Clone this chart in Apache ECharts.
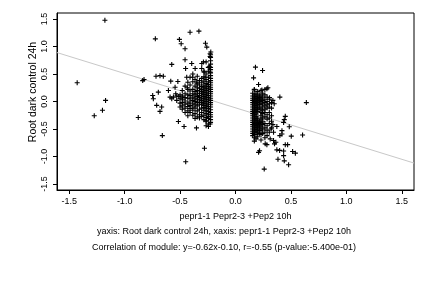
<!DOCTYPE html>
<html>
<head>
<meta charset="utf-8">
<script src="https://cdn.jsdelivr.net/npm/echarts@6/dist/echarts.min.js"></script>
<style>
  html, body { margin: 0; padding: 0; background: #fff; }
  #chart { width: 432px; height: 288px; }
</style>
</head>
<body>
<div id="chart"></div>
<script>
// tick positions shown on both axes
const tickValues = [-1.5, -1.0, -0.5, 0.0, 0.5, 1.0, 1.5]

// regression line end points (read at the plot edges)
const fitLine = [[-1.61, 0.89], [1.61, -1.12]]

// scattered points, read one by one
const loosePoints = [
  [-1.178, 1.478], [-1.428, 0.34], [-1.172, 0.02], [-1.2, -0.16], [-1.274, -0.26],
  [-0.877, -0.29], [-0.825, 0.4], [-0.837, 0.38], [-0.723, 1.14], [-0.717, 0.46],
  [-0.681, 0.47], [-0.651, 0.46], [-0.747, 0.11], [-0.741, 0.05], [-0.696, 0.17],
  [-0.711, -0.07], [-0.681, -0.18], [-0.666, -0.1], [-0.66, -0.62], [-0.584, 0.37],
  [-0.575, 0.675], [-0.605, 0.2], [-0.59, 0.08], [-0.575, 0.05], [-0.56, 0.08],
  [-0.545, 0.26], [-0.539, 0.14], [-0.52, 0.365], [-0.512, 0.09], [-0.515, -0.365],
  [-0.506, 1.13], [-0.49, 1.05], [-0.476, 0.08], [-0.464, -0.456], [-0.455, 0.96],
  [-0.455, 0.76], [-0.45, 0.6], [-0.449, -1.095], [-0.41, 1.26], [-0.33, 1.28],
  [-0.44, 0.44], [-0.434, 0.25], [-0.395, 0.69], [-0.386, 0.44], [-0.364, 0.6],
  [-0.35, 0.35], [-0.352, -0.48], [-0.304, 0.69], [-0.289, 0.72], [-0.28, -0.85],
  [-0.271, 1.06], [-0.259, 0.99], [-0.229, 0.87], [-0.223, 0.9], [-0.229, 0.82],
  [-0.283, 0.535], [-0.274, 0.44], [-0.235, 0.63], [-0.229, 0.535], [-0.244, -0.456],
  [-0.229, -0.41], [-0.265, -0.35],
  [0.18, 0.625], [0.244, 0.565], [0.163, 0.43], [0.208, 0.31], [0.169, 0.21],
  [0.238, 0.21], [0.283, 0.23], [0.292, 0.25], [0.307, 0.07], [0.337, 0.02],
  [0.349, -0.04], [0.4, 0.08], [0.639, -0.02], [0.449, -0.27], [0.44, -0.33],
  [0.434, -0.38], [0.485, -0.46], [0.605, -0.61], [0.503, -0.63], [0.419, -0.59],
  [0.4, -0.62], [0.449, -0.785], [0.47, -0.785], [0.343, -0.71], [0.352, -0.77],
  [0.364, -0.74], [0.373, -0.88], [0.398, -0.89], [0.434, -0.9], [0.434, -0.985],
  [0.515, -0.91], [0.54, -0.94], [0.44, -1.08], [0.383, -1.05], [0.479, -1.15],
  [0.259, -1.23], [0.208, -0.925], [0.217, -0.895], [0.268, -0.77], [0.283, -0.785],
  [0.313, -0.68], [0.32, -0.5], [0.337, -0.42], [0.373, -0.456], [0.419, -0.53],
  [0.343, -0.56]
]

// dense left cluster, as columns: [x, y values]
const leftStrips = [
  [-0.225, [0.85, 0.8, 0.74, 0.68, 0.62, 0.58, 0.52, 0.47, 0.42, 0.38, 0.34, 0.3, 0.26, 0.22, 0.18, 0.14, 0.1, 0.06, 0.02, -0.02, -0.06, -0.1, -0.15, -0.2, -0.24, -0.28, -0.33, -0.38]],
  [-0.245, [0.62, 0.55, 0.44, 0.36, 0.31, 0.27, 0.23, 0.19, 0.15, 0.11, 0.07, 0.03, -0.01, -0.05, -0.09, -0.13, -0.18, -0.23, -0.27, -0.31, -0.41]],
  [-0.265, [0.72, 0.5, 0.4, 0.33, 0.28, 0.24, 0.2, 0.16, 0.12, 0.08, 0.04, 0.0, -0.04, -0.08, -0.12, -0.17, -0.22, -0.29, -0.36, -0.44]],
  [-0.285, [0.55, 0.45, 0.37, 0.3, 0.25, 0.21, 0.17, 0.13, 0.09, 0.05, 0.01, -0.03, -0.07, -0.11, -0.16, -0.25, -0.33]],
  [-0.305, [0.6, 0.42, 0.34, 0.27, 0.22, 0.18, 0.14, 0.1, 0.06, 0.02, -0.02, -0.06, -0.12, -0.2, -0.27]],
  [-0.325, [0.38, 0.3, 0.24, 0.19, 0.15, 0.11, 0.07, 0.03, -0.01, -0.05, -0.14, -0.24, -0.3]],
  [-0.345, [0.46, 0.32, 0.25, 0.2, 0.14, 0.09, 0.04, -0.02, -0.08, -0.17, -0.28]],
  [-0.365, [0.4, 0.28, 0.18, 0.12, 0.06, 0.0, -0.06, -0.12, -0.22, -0.31]],
  [-0.385, [0.5, 0.36, 0.22, 0.14, 0.08, 0.02, -0.04, -0.1, -0.16, -0.25]],
  [-0.41, [0.44, 0.3, 0.19, 0.11, 0.05, -0.01, -0.07, -0.13, -0.2]],
  [-0.43, [0.35, 0.22, 0.12, 0.06, -0.03, -0.09, -0.17, -0.26]],
  [-0.455, [0.28, 0.14, 0.07, 0.01, -0.05, -0.12, -0.2]],
  [-0.48, [0.2, 0.1, 0.04, -0.02, -0.08, -0.14]],
  [-0.5, [0.12, 0.05, -0.03, -0.1]],
  [-0.53, [0.1, 0.02]]
]

// dense right cluster, same layout
const rightStrips = [
  [0.155, [0.15, 0.1, 0.06, 0.02, -0.02, -0.06, -0.1, -0.14, -0.18, -0.22, -0.26, -0.3, -0.34, -0.38, -0.42, -0.46, -0.5, -0.54, -0.58, -0.62]],
  [0.17, [0.22, 0.12, 0.08, 0.04, 0.0, -0.04, -0.08, -0.12, -0.16, -0.2, -0.24, -0.28, -0.32, -0.36, -0.4, -0.44, -0.48, -0.52, -0.56, -0.6, -0.66, -0.72]],
  [0.185, [0.14, 0.09, 0.05, 0.01, -0.03, -0.07, -0.11, -0.15, -0.19, -0.23, -0.27, -0.31, -0.35, -0.39, -0.43, -0.47, -0.51, -0.55, -0.6, -0.68]],
  [0.2, [0.18, 0.1, 0.06, 0.02, -0.02, -0.06, -0.1, -0.14, -0.18, -0.3, -0.34, -0.38, -0.42, -0.46, -0.5, -0.56, -0.64]],
  [0.215, [0.12, 0.07, 0.03, -0.01, -0.05, -0.12, -0.36, -0.4, -0.44, -0.48, -0.53, -0.58]],
  [0.23, [0.2, 0.1, 0.05, 0.0, -0.06, -0.14, -0.2, -0.26, -0.32, -0.38, -0.45, -0.52, -0.6, -0.7]],
  [0.245, [0.15, 0.08, 0.02, -0.04, -0.1, -0.16, -0.22, -0.3, -0.36, -0.42, -0.5, -0.58]],
  [0.265, [0.22, 0.12, 0.04, -0.02, -0.08, -0.14, -0.2, -0.28, -0.4, -0.48, -0.56, -0.66]],
  [0.285, [0.08, 0.0, -0.06, -0.12, -0.24, -0.32, -0.44, -0.52, -0.62]],
  [0.305, [0.04, -0.04, -0.1, -0.2, -0.3, -0.4, -0.56]],
  [0.325, [-0.02, -0.12, -0.26, -0.36, -0.48]]
]

const flatten = (strips) => {
  const out = []
  strips.forEach(([x, ys]) => ys.forEach((y) => out.push([x, y])))
  return out
}

const points = loosePoints.concat(flatten(leftStrips), flatten(rightStrips))

// plus sign marker, like R's pch = 3
const plus = 'path://M-0.22,-1L0.22,-1L0.22,-0.22L1,-0.22L1,0.22L0.22,0.22L0.22,1L-0.22,1L-0.22,0.22L-1,0.22L-1,-0.22L-0.22,-0.22Z'
const font = 'Liberation Sans'

const chart = echarts.init(document.getElementById('chart'), null, { renderer: 'canvas' })

chart.setOption({
  animation: false,
  backgroundColor: '#fff',
  grid: {
    left: 57,
    right: 18,
    top: 13,
    bottom: 98,
    show: true,
    borderColor: '#000',
    borderWidth: 1,
  },
  xAxis: {
    type: 'value',
    min: -1.61,
    max: 1.61,
    name: 'pepr1-1 Pepr2-3 +Pep2 10h',
    nameLocation: 'middle',
    nameGap: 22,
    nameTextStyle: { fontFamily: font, fontSize: 9, color: '#000' },
    axisLine: { show: true, onZero: false, lineStyle: { color: '#000' } },
    axisTick: { show: true, length: 4, customValues: tickValues, lineStyle: { color: '#000' } },
    axisLabel: {
      customValues: tickValues,
      formatter: (v) => v.toFixed(1),
      fontFamily: font,
      fontSize: 9,
      color: '#000',
      margin: 7,
    },
    splitLine: { show: false },
  },
  yAxis: {
    type: 'value',
    min: -1.61,
    max: 1.61,
    axisLine: { show: true, onZero: false, lineStyle: { color: '#000' } },
    axisTick: { show: true, length: 4, customValues: tickValues, lineStyle: { color: '#000' } },
    axisLabel: {
      customValues: tickValues,
      formatter: (v) => v.toFixed(1),
      rotate: 90,
      fontFamily: font,
      fontSize: 9,
      color: '#000',
      margin: 8,
    },
    splitLine: { show: false },
  },
  graphic: [
    {
      type: 'text',
      x: 33,
      y: 92,
      rotation: Math.PI / 2,
      style: {
        text: 'Root dark control 24h',
        fontFamily: font,
        fontSize: 10.5,
        fill: '#000',
        align: 'center',
        verticalAlign: 'middle',
      },
    },
    {
      type: 'text',
      x: 224,
      y: 232,
      style: {
        text: 'yaxis: Root dark control 24h, xaxis: pepr1-1 Pepr2-3 +Pep2 10h',
        fontFamily: font,
        fontSize: 9,
        fill: '#000',
        align: 'center',
        verticalAlign: 'middle',
      },
    },
    {
      type: 'text',
      x: 224,
      y: 248,
      style: {
        text: 'Correlation of module: y=-0.62x-0.10, r=-0.55 (p-value:-5.400e-01)',
        fontFamily: font,
        fontSize: 9,
        fill: '#000',
        align: 'center',
        verticalAlign: 'middle',
      },
    },
  ],
  series: [
    {
      type: 'line',
      data: fitLine,
      symbol: 'none',
      silent: true,
      z: 1,
      lineStyle: { color: '#c8c8c8', width: 1 },
    },
    {
      type: 'scatter',
      data: points,
      symbol: plus,
      symbolSize: 5,
      z: 2,
      itemStyle: { color: '#000', opacity: 1 },
    },
  ],
})
</script>
</body>
</html>
